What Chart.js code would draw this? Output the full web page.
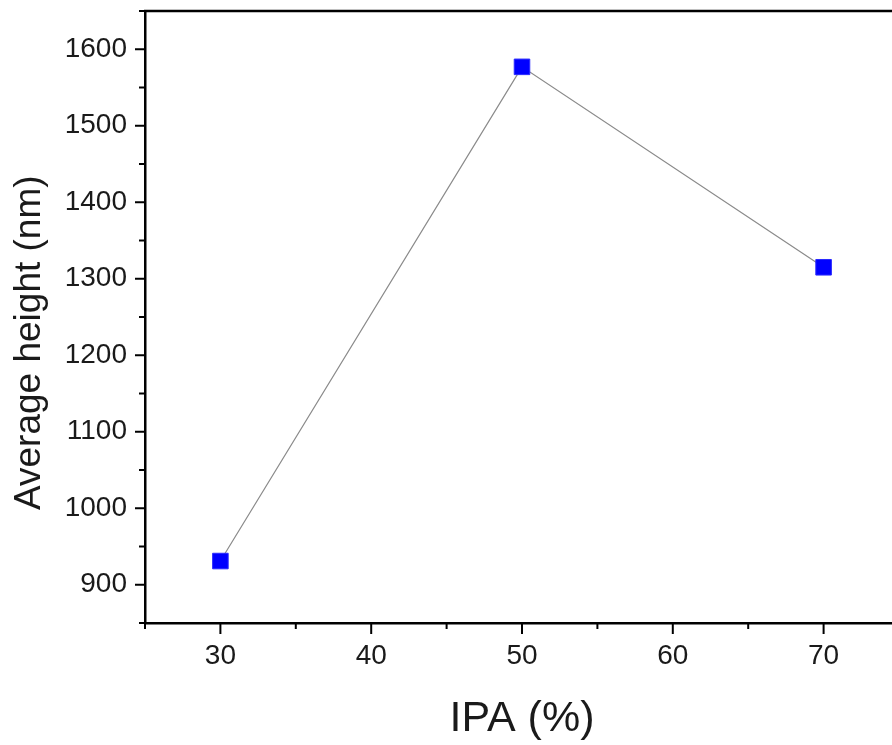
<!DOCTYPE html>
<html>
<head>
<meta charset="utf-8">
<script src="https://cdn.jsdelivr.net/npm/chart.js@4.4.1/dist/chart.umd.min.js"></script>
<style>
  html, body { margin: 0; padding: 0; background: #ffffff; overflow: hidden; }
  #wrap { width: 905px; height: 745px; position: relative; }
  canvas { display: block; width: 905px; height: 745px; }
</style>
</head>
<body>
<div id="wrap"><canvas id="c" width="905" height="745"></canvas></div>
<script>
// ---- data ----
const ipaPercent = [30, 50, 70];
const averageHeight = [931, 1577, 1315];
const xTitle = 'IPA (%)';
const yTitle = 'Average height (nm)     ';
const xRange = [25, 75];
const yRange = [850, 1650];

const points = ipaPercent.map((x, i) => ({ x: x, y: averageHeight[i] }));

const FONT = "'Liberation Sans', Arial, Helvetica, sans-serif";
const TEXT = '#1a1a1a';

const tickPlugin = {
  id: 'originTicks',
  afterDraw(chart) {
    const ctx = chart.ctx;
    const a = chart.chartArea;
    const xs = chart.scales.x, ys = chart.scales.y;
    ctx.save();
    ctx.strokeStyle = '#000';
    ctx.lineWidth = 2;
    ctx.lineCap = 'butt';
    ys.ticks.forEach(t => {
      if (t.value % 50 !== 0) return;
      const p = ys.getPixelForValue(t.value);
      const len = (t.value % 100 === 0) ? 10 : 6;
      ctx.beginPath(); ctx.moveTo(a.left - len, p); ctx.lineTo(a.left, p); ctx.stroke();
    });
    xs.ticks.forEach(t => {
      if (t.value % 5 !== 0 || t.value >= xRange[1]) return;
      const p = xs.getPixelForValue(t.value);
      const len = (t.value % 10 === 0) ? 11 : 6;
      ctx.beginPath(); ctx.moveTo(p, a.bottom); ctx.lineTo(p, a.bottom + len); ctx.stroke();
    });
    // top frame line
    ctx.lineWidth = 2.5;
    ctx.beginPath();
    ctx.moveTo(a.left - 1, a.top); ctx.lineTo(a.right, a.top);
    ctx.stroke();
    ctx.restore();
  }
};

new Chart(document.getElementById('c'), {
  type: 'scatter',
  data: {
    datasets: [{
      data: points,
      showLine: true,
      borderColor: '#8a8a8a',
      borderWidth: 1.2,
      pointStyle: 'rect',
      pointRadius: 11,
      pointHoverRadius: 11,
      pointBackgroundColor: '#0000ff',
      pointBorderColor: '#2a2aff',
      pointBorderWidth: 1
    }]
  },
  options: {
    responsive: false,
    animation: false,
    devicePixelRatio: 1,
    layout: { autoPadding: false, padding: { top: 11, right: 6, left: 0, bottom: 0 } },
    plugins: { legend: { display: false }, tooltip: { enabled: false } },
    scales: {
      x: {
        type: 'linear',
        min: xRange[0], max: xRange[1],
        afterFit(s) { s.height = 122; s.paddingLeft = 0; s.paddingRight = 0; },
        grid: { display: false, drawTicks: false },
        border: { display: true, color: '#000', width: 2.5 },
        ticks: {
          stepSize: 5, autoSkip: false, maxRotation: 0, padding: 16,
          color: TEXT, font: { family: FONT, size: 28 },
          callback: v => (v % 10 === 0 ? String(v) : '')
        },
        title: {
          display: true, text: xTitle, color: TEXT,
          font: { family: FONT, size: 43 }, padding: { top: 0, bottom: 0 }
        }
      },
      y: {
        type: 'linear',
        min: yRange[0], max: yRange[1],
        afterFit(s) { s.width = 145; s.paddingTop = 0; s.paddingBottom = 0; },
        grid: { display: false, drawTicks: false },
        border: { display: true, color: '#000', width: 2.5 },
        ticks: {
          stepSize: 50, autoSkip: false, padding: 18,
          color: TEXT, font: { family: FONT, size: 28 },
          callback: v => (v % 100 === 0 ? String(v) : '')
        },
        title: {
          display: true, text: yTitle, color: TEXT,
          font: { family: FONT, size: 37 }, padding: { top: 8, bottom: 0 }
        }
      }
    }
  },
  plugins: [tickPlugin]
});
</script>
</body>
</html>
